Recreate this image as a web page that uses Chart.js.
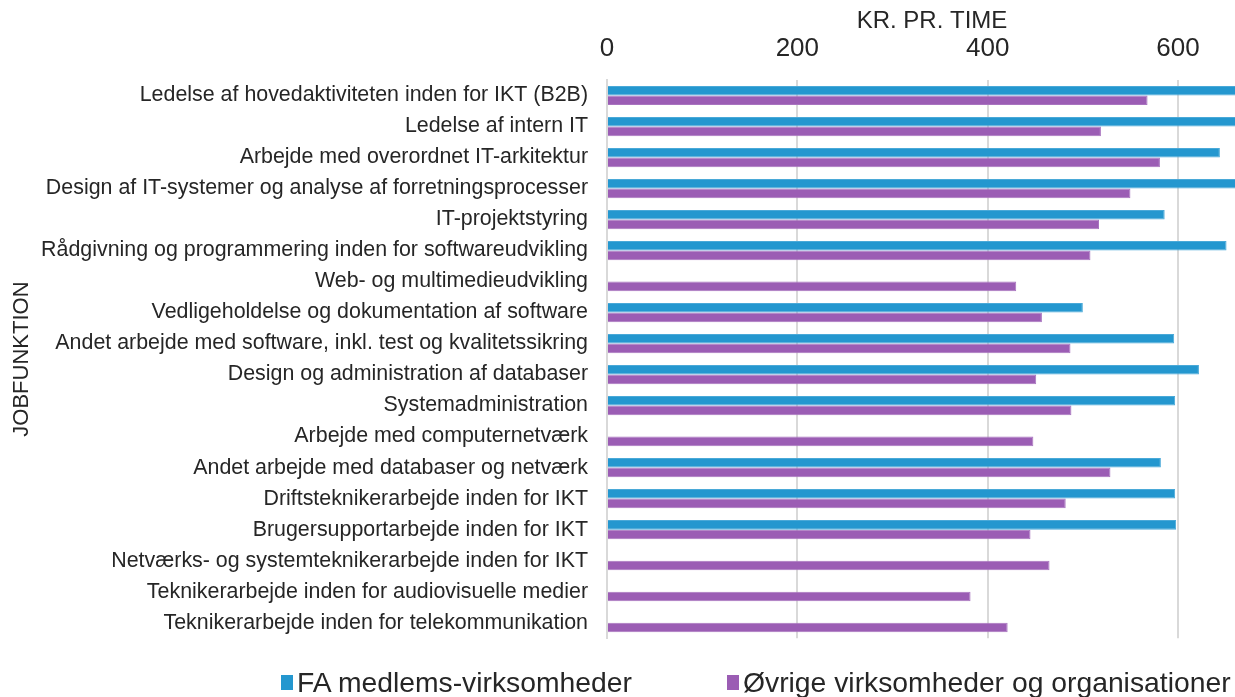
<!DOCTYPE html>
<html>
<head>
<meta charset="utf-8">
<script src="https://cdn.jsdelivr.net/npm/chart.js@4"></script>
<style>
	html, body { margin: 0; padding: 0; background: #fff; }
	.wrap { position: relative; width: 1235px; height: 697px; overflow: hidden; font-family: "Liberation Sans", Arial, sans-serif; }
	#chart { position: absolute; left: 0; top: 0; }
	.legend { position: absolute; top: 666px; left: 0; width: 1235px; height: 36px; color: #262626; font-size: 28.3px; }
	.legend-item { position: absolute; top: 0; display: flex; align-items: center; white-space: nowrap; }
	.legend-box { width: 12px; height: 15px; margin-right: 4px; }
</style>
</head>
<body>
<div class="wrap">
	<canvas id="chart" width="1257" height="670"></canvas>
	<div class="legend">
		<div class="legend-item" style="left:281px"><span class="legend-box" style="background:#2497cf"></span>FA medlems-virksomheder</div>
		<div class="legend-item" style="left:727px"><span class="legend-box" style="background:#9b5db4"></span>Øvrige virksomheder og organisationer</div>
	</div>
</div>
<script>
const categories = [
	'Ledelse af hovedaktiviteten inden for IKT (B2B)',
	'Ledelse af intern IT',
	'Arbejde med overordnet IT-arkitektur',
	'Design af IT-systemer og analyse af forretningsprocesser',
	'IT-projektstyring',
	'Rådgivning og programmering inden for softwareudvikling',
	'Web- og multimedieudvikling',
	'Vedligeholdelse og dokumentation af software',
	'Andet arbejde med software, inkl. test og kvalitetssikring',
	'Design og administration af databaser',
	'Systemadministration',
	'Arbejde med computernetværk',
	'Andet arbejde med databaser og netværk',
	'Driftsteknikerarbejde inden for IKT',
	'Brugersupportarbejde inden for IKT',
	'Netværks- og systemteknikerarbejde inden for IKT',
	'Teknikerarbejde inden for audiovisuelle medier',
	'Teknikerarbejde inden for telekommunikation'
];

// null = no value shown for that group
const faValues = [700, 685, 644, 668, 586, 651, null, 500, 596, 622, 597, null, 582, 597, 598, null, null, null];
const otherValues = [568, 519, 581, 550, 517, 508, 430, 457, 487, 451, 488, 448, 529, 482, 445, 465, 382, 421];

const xTicks = [0, 200, 400, 600];

const seriesNames = ['FA medlems-virksomheder', 'Øvrige virksomheder og organisationer'];
const seriesColors = ['#2497cf', '#9b5db4'];
const seriesBorders = ['#4aa9d8', '#a874bf'];

const ctx = document.getElementById('chart').getContext('2d');
new Chart(ctx, {
	type: 'bar',
	data: {
		labels: categories,
		datasets: [
			{
				label: seriesNames[0],
				data: faValues,
				backgroundColor: seriesColors[0],
				borderColor: seriesBorders[0],
				borderWidth: 1
			},
			{
				label: seriesNames[1],
				data: otherValues,
				backgroundColor: seriesColors[1],
				borderColor: seriesBorders[1],
				borderWidth: 1
			}
		]
	},
	options: {
		indexAxis: 'y',
		responsive: false,
		animation: false,
		devicePixelRatio: 1,
		layout: { padding: { left: 0, right: 0, top: 0, bottom: 12 } },
		categoryPercentage: 0.62,
		barPercentage: 1,
		plugins: {
			legend: { display: false },
			tooltip: { enabled: false }
		},
		scales: {
			x: {
				position: 'top',
				min: 0,
				max: 683,
				afterBuildTicks: (scale) => {
					scale.ticks = xTicks.map(v => ({ value: v }));
				},
				afterFit: (scale) => { scale.height = 80; },
				grid: { color: '#d9d9d9', lineWidth: 2, drawTicks: false },
				border: { display: false },
				ticks: {
					color: '#262626',
					padding: 16,
					font: { family: 'Liberation Sans', size: 26 }
				},
				title: {
					display: true,
					text: 'KR. PR. TIME',
					color: '#262626',
					padding: { top: 7, bottom: 0 },
					font: { family: 'Liberation Sans', size: 24 }
				}
			},
			y: {
				afterFit: (scale) => { scale.width = 607; },
				grid: { display: false, drawTicks: false },
				border: { display: true, color: '#d9d9d9', width: 2 },
				ticks: {
					color: '#262626',
					padding: 19,
					autoSkip: false,
					font: { family: 'Liberation Sans', size: 21.4 }
				},
				title: {
					display: true,
					text: 'JOBFUNKTION',
					color: '#262626',
					padding: { top: 9, bottom: 0 },
					font: { family: 'Liberation Sans', size: 22 }
				}
			}
		}
	}
});
</script>
</body>
</html>
